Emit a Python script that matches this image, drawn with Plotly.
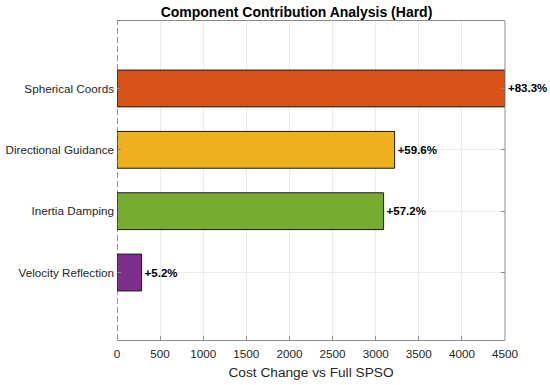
import plotly.graph_objects as go

categories = ["Velocity Reflection", "Inertia Damping", "Directional Guidance", "Spherical Coords"]
cost_change = [285, 3092, 3220, 4500]
pct_labels = ["+5.2%", "+57.2%", "+59.6%", "+83.3%"]
bar_colors = ["#7E2F8E", "#77AC30", "#EDB120", "#D95319"]
x_ticks = [0, 500, 1000, 1500, 2000, 2500, 3000, 3500, 4000, 4500]

ypos = list(range(len(categories)))
FONT = "Liberation Sans, Arial, sans-serif"
W, H = 550, 385

fig = go.Figure()
fig.add_trace(go.Bar(
    x=cost_change, y=ypos, orientation="h", width=0.6,
    marker=dict(color=bar_colors, line=dict(color="#1a1a1a", width=1)),
    text=pct_labels, textposition="outside", cliponaxis=False,
    textfont=dict(family=FONT, size=11.5, color="black", weight="bold"),
    showlegend=False, hoverinfo="skip",
))

fig.add_shape(type="line", xref="x", yref="paper", x0=0, x1=0, y0=0, y1=1,
              line=dict(color="#333333", width=1, dash="6px,3px"))
fig.add_shape(type="line", xref="paper", yref="paper", x0=1, x1=1, y0=0, y1=1,
              line=dict(color="#8c8c8c", width=1))

fig.update_layout(
    width=W, height=H,
    margin=dict(l=117, r=45, t=21, b=45, autoexpand=False),
    paper_bgcolor="white", plot_bgcolor="white",
    font=dict(family=FONT, size=11.7, color="#262626"),
    title=dict(text="<b>Component Contribution Analysis (Hard)</b>",
               x=296.5 / W, xanchor="center", y=1 - 12.5 / H, yanchor="middle",
               font=dict(family=FONT, size=14, color="black")),
)
fig.update_xaxes(
    range=[0, 4500], tickvals=x_ticks, ticks="inside", ticklen=4,
    tickcolor="#8c8c8c", showline=True, linecolor="#8c8c8c", mirror=True,
    showgrid=True, gridcolor="#ebebeb", zeroline=False, automargin=False,
    ticklabelstandoff=3,
    title=dict(text="Cost Change vs Full SPSO", font=dict(size=13.7, color="#262626"), standoff=8),
    tickfont=dict(size=11.7, color="#262626"),
)
fig.update_yaxes(
    range=[-1.1, 4.1], tickvals=ypos, ticktext=categories, ticks="inside", ticklen=4,
    tickcolor="#8c8c8c", showline=False, mirror="ticks",
    showgrid=True, gridcolor="#ebebeb", zeroline=False, ticklabelstandoff=2,
    automargin=False,
    tickfont=dict(size=11.7, color="#262626"),
)

fig.write_html("out.html", config={"displayModeBar": False},
               post_script="document.body.style.margin='0';")
